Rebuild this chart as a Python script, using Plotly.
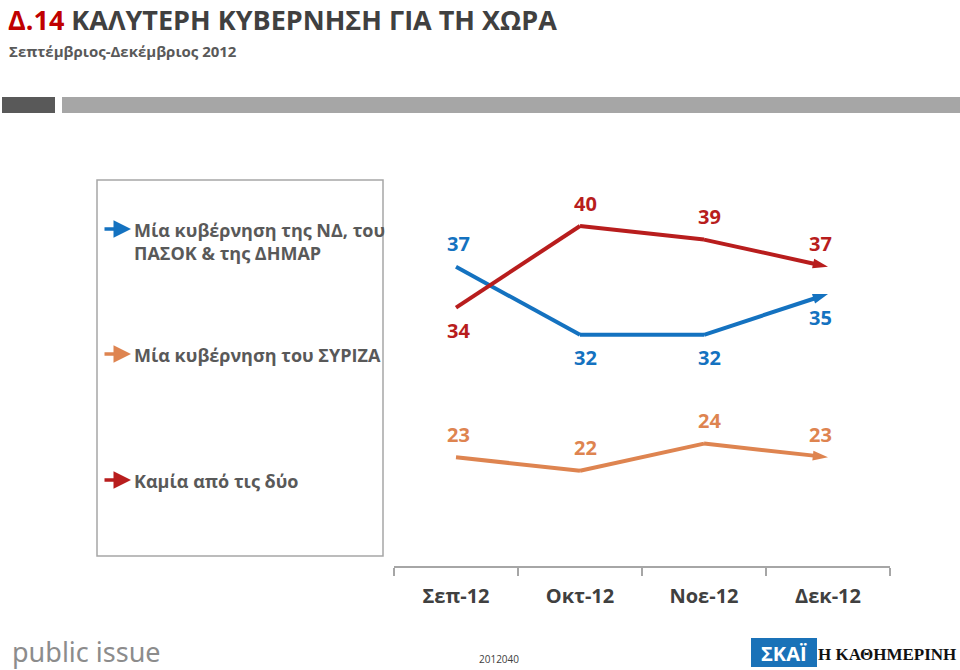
import plotly.graph_objects as go

# ---- data ----
categories = ["Σεπ-12", "Οκτ-12", "Νοε-12", "Δεκ-12"]
nd_pasok_dimar = [37, 32, 32, 35]
syriza = [34, 40, 39, 37]
neither = [23, 22, 24, 23]

series_names = ["Μία κυβέρνηση της ΝΔ, του<br>ΠΑΣΟΚ & της ΔΗΜΑΡ",
                "Μία κυβέρνηση του ΣΥΡΙΖΑ",
                "Καμία από τις δύο"]

BLUE = "#1472c0"
RED = "#b81d1d"
ORANGE = "#de8450"
legend_colors = [BLUE, ORANGE, RED]  # as shown in the original legend

W, H = 960, 670
def px(x):
    return x / W
def py(y):
    return (H - y) / H

FONT = "Open Sans"

fig = go.Figure()

series = [
    (nd_pasok_dimar, BLUE, ["top", "bottom", "bottom", "bottom"]),
    (syriza, RED, ["bottom", "top", "top", "top"]),
    (neither, ORANGE, ["top", "top", "top", "top"]),
]

for vals, col, pos in series:
    n = len(vals)
    fig.add_trace(go.Scatter(
        x=categories, y=vals, mode="lines+markers",
        line=dict(color=col, width=4),
        marker=dict(symbol=["circle"] * (n - 1) + ["arrow"],
                    size=[0] * (n - 1) + [16],
                    angleref="previous", color=col, opacity=1,
                    line=dict(width=0)),
        hoverinfo="skip", showlegend=False, cliponaxis=False,
    ))
    for i, (v, p) in enumerate(zip(vals, pos)):
        xshift = 5 if 0 < i < n - 1 else (-8 if i == n - 1 else 2)
        fig.add_annotation(
            x=categories[i], y=v, xref="x", yref="y", text=str(v),
            showarrow=False, font=dict(family=FONT, size=20, color=col, weight="bold"),
            yshift=23 if p == "top" else -23, xshift=xshift,
        )

fig.update_xaxes(
    type="category", range=[-0.5, 3.5], domain=[px(394), px(890)],
    showline=True, linecolor="#a6a6a6", linewidth=1.5,
    ticks="outside", tickson="boundaries", ticklen=8, tickcolor="#a6a6a6", tickwidth=1.5,
    tickfont=dict(family=FONT, size=20, color="#404040", weight="bold"),
    ticklabelstandoff=11,
    showgrid=False, zeroline=False, fixedrange=True,
)
fig.update_yaxes(
    range=[15, 45], domain=[py(566), py(158)], visible=False,
    showgrid=False, zeroline=False,
)

shapes = [
    dict(type="rect", xref="paper", yref="paper", x0=px(2), x1=px(55), y0=py(113), y1=py(97),
         fillcolor="#595959", line=dict(width=0)),
    dict(type="rect", xref="paper", yref="paper", x0=px(62), x1=px(960), y0=py(113), y1=py(97),
         fillcolor="#a6a6a6", line=dict(width=0)),
    dict(type="rect", xref="paper", yref="paper", x0=px(97), x1=px(383), y0=py(556), y1=py(180),
         fillcolor="rgba(0,0,0,0)", line=dict(color="#a6a6a6", width=1.5)),
    dict(type="rect", xref="paper", yref="paper", x0=px(751), x1=px(817), y0=py(667), y1=py(638),
         fillcolor="#1a72b8", line=dict(width=0)),
]
fig.update_layout(shapes=shapes)

# title & subtitle
fig.add_annotation(xref="paper", yref="paper", x=px(7), y=1, xanchor="left", yanchor="top",
                   text="<span style='color:#c00000'>Δ.14</span> ΚΑΛΥΤΕΡΗ ΚΥΒΕΡΝΗΣΗ ΓΙΑ ΤΗ ΧΩΡΑ",
                   showarrow=False, borderpad=0,
                   font=dict(family=FONT, size=27, color="#404040", weight="bold"))
fig.add_annotation(xref="paper", yref="paper", x=px(7), y=py(51), xanchor="left", yanchor="middle",
                   text="Σεπτέμβριος-Δεκέμβριος 2012",
                   showarrow=False, font=dict(family=FONT, size=15, color="#595959", weight="bold"))

# legend entries
legend_y = [229, 354, 480]
for name, col, ly in zip(series_names, legend_colors, legend_y):
    fig.add_annotation(xref="paper", yref="paper", x=px(131), y=py(ly), ax=-28, ay=0,
                       text="", showarrow=True, arrowhead=2, arrowsize=1, arrowwidth=3.5,
                       arrowcolor=col)
    fig.add_annotation(xref="paper", yref="paper", x=px(132), y=py(ly - 13), xanchor="left", yanchor="top",
                       text=name, align="left", showarrow=False,
                       font=dict(family=FONT, size=18, color="#595959", weight="bold"))

# footer
fig.add_annotation(xref="paper", yref="paper", x=px(10), y=py(651), xanchor="left", yanchor="middle",
                   text="public issue", showarrow=False,
                   font=dict(family="Noto Sans", size=27, color="#8c8c8c"))
fig.add_annotation(xref="paper", yref="paper", x=px(499), y=py(659), xanchor="center", yanchor="middle",
                   text="2012040", showarrow=False,
                   font=dict(family=FONT, size=10, color="#404040"))
fig.add_annotation(xref="paper", yref="paper", x=px(784), y=py(653), xanchor="center", yanchor="middle",
                   text="ΣΚΑΪ", showarrow=False,
                   font=dict(family=FONT, size=20, color="white", weight="bold"))
fig.add_annotation(xref="paper", yref="paper", x=px(958), y=py(654), xanchor="right", yanchor="middle",
                   text="Η ΚΑΘΗΜΕΡΙΝΗ", showarrow=False,
                   font=dict(family="Liberation Serif", size=17, color="#111111", weight="bold"))

fig.update_layout(
    width=W, height=H, margin=dict(l=0, r=0, t=0, b=0),
    paper_bgcolor="white", plot_bgcolor="white",
    showlegend=False,
)

fig.write_html("out.html", config={"displayModeBar": False},
               post_script="document.body.style.margin='0';document.body.style.padding='0';")
